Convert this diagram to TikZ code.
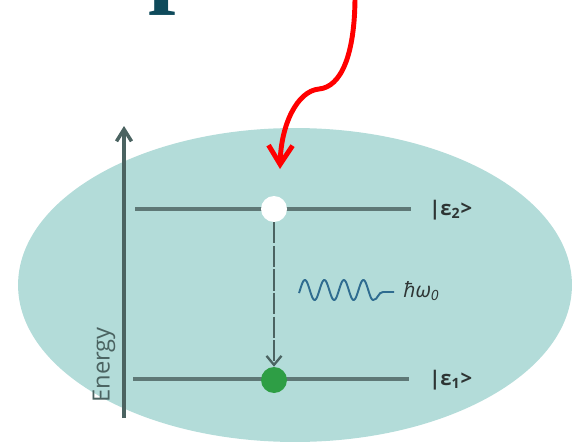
\documentclass[tikz,border=0pt]{standalone}
\usepackage{fontspec}
\setmainfont{Open Sans}
\newfontfamily\titlefont{Liberation Serif}
\usetikzlibrary{arrows.meta,positioning}
\definecolor{cellteal}{HTML}{B3DCD9}
\definecolor{levelgray}{HTML}{5E7876}
\definecolor{axisgray}{HTML}{4B6361}
\definecolor{dotgreen}{HTML}{2E9E45}
\definecolor{photonblue}{HTML}{2F6C90}
\definecolor{titleteal}{HTML}{0E4A5B}
\definecolor{textgray}{HTML}{2E3534}
\tikzset{
  level/.style={line width=2.6pt,draw=levelgray},
  dot/.style={circle,inner sep=0pt,minimum size=0.52cm,fill=#1},
  dot/.default=white,
  statelabel/.style={anchor=west,inner sep=0pt,font=\fontsize{11.5}{13}\selectfont\bfseries,text=textgray},
  decay/.style={-{Straight Barb[length=1.8mm,width=3mm]},line width=1.3pt,draw=axisgray,dash pattern=on 12pt off 1.4pt},
  axis/.style={-{Straight Barb[length=2.4mm,width=3mm]},line width=2pt,draw=axisgray},
  photon/.style={line width=1.1pt,draw=photonblue},
  pointer/.style={-{Straight Barb[length=3.8mm,width=4.8mm]},line width=2.8pt,draw=red,line cap=round,line join=round}
}

\begin{document}
\begin{tikzpicture}[x=0.02cm,y=-0.02cm]
\useasboundingbox (0,0) rectangle (574,446);
\clip (0,0) rectangle (574,446);
% cut-off heading letter
\node[anchor=base west,inner sep=0pt,text=titleteal,font=\titlefont\bfseries\fontsize{56}{60}\selectfont] (title) at (148,-5) {p};
% cell
\fill[cellteal] (295,285) ellipse [x radius=5.54cm,y radius=3.14cm];
% energy axis
\coordinate (axisbot) at (124,418);
\coordinate (axistop) at (124,126);
\draw[axis] (axisbot) -- (axistop);
\node[rotate=90,font=\fontsize{13.5}{15}\selectfont,text=axisgray] (energy) at (104,365) {Energy};
% levels
\coordinate (E2left) at (135,209);
\coordinate (E2right) at (411,209);
\coordinate (E1left) at (133,379);
\coordinate (E1right) at (409,379);
\draw[level] (E2left) -- (E2right);
\draw[level] (E1left) -- (E1right);
\node[dot=white] (upper) at (274,209) {};
\node[dot=dotgreen] (lower) at (274,380) {};
\draw[decay] (upper) -- (lower);
\node[statelabel] (E2label) at (429,210) {|ε\textsubscript{2}>};
\node[statelabel] (E1label) at (429,380) {|ε\textsubscript{1}>};
% emitted photon
\coordinate (photonend) at (394,292);
\draw[photon] plot[domain=-0.05:3.75,samples=120,smooth] ({300+19.5*\x},{290-10*sin(360*\x)})
  to[out=0,in=180] (383,292) -- (photonend);
\node[anchor=west,inner sep=0pt,font=\fontsize{12}{13}\selectfont\itshape,text=textgray] (energylabel) at (403,291) {ħω\textsubscript{0}};
% red pointer
\coordinate (redtop) at (355,-4);
\coordinate (redkink) at (319,89);
\coordinate (redtip) at (280,169);
\draw[pointer] (redtop) .. controls (355,55) and (341,87) .. (redkink)
  .. controls (297,91) and (281,125) .. (redtip);
\end{tikzpicture}
\end{document}
